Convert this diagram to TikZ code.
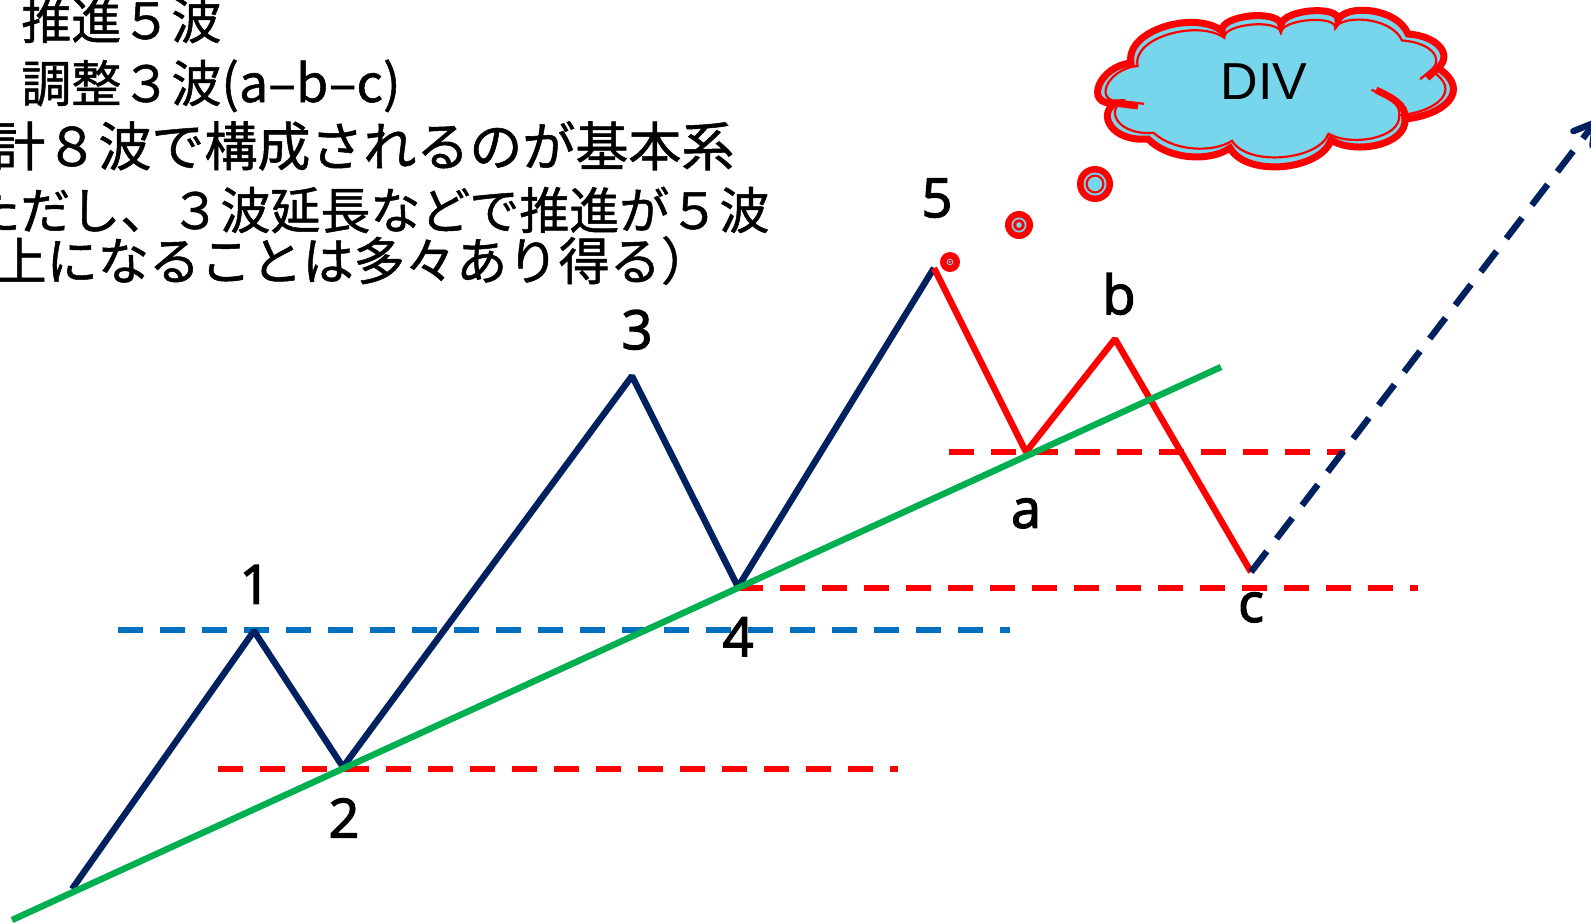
\documentclass[tikz,border=0pt]{standalone}
\usepackage{fontspec}
\usepackage{xcolor}
\setmainfont{Open Sans}
\newfontfamily\cjkfont[FakeBold=1]{Noto Sans CJK JP}
\newfontfamily\divfont{Liberation Sans}
\newfontfamily\lblfont[FakeBold=2.5]{Open Sans}
\usepackage{tikz}
\usetikzlibrary{arrows.meta,positioning}
\definecolor{wavenavy}{HTML}{002060}
\definecolor{trendgreen}{HTML}{00B050}
\definecolor{levelblue}{HTML}{0070C0}
\definecolor{cloudcyan}{HTML}{77D6EC}
\newcommand\cloudrim{(1115,103) .. controls (1083,106) and (1099,66) .. (1131,63)
  .. controls (1125,30) and (1195,10) .. (1222,31)
  .. controls (1220,15) and (1279,9) .. (1281,25)
  .. controls (1283,9) and (1340,5) .. (1338,20)
  .. controls (1345,4) and (1397,7) .. (1408,34)
  .. controls (1438,36) and (1453,55) .. (1438,68)
  .. controls (1472,90) and (1445,115) .. (1405,119)
  .. controls (1407,145) and (1355,155) .. (1331,140)
  .. controls (1321,170) and (1247,178) .. (1230,148)
  .. controls (1210,162) and (1169,160) .. (1148,139)
  .. controls (1112,142) and (1097,115) .. (1115,103) -- cycle}
\newcommand\cloudhooks{(1115,103) -- (1138,106) (1438,68) -- (1427,78)
  (1405,119) .. controls (1407,105) and (1391,97) .. (1376,90)}
\newcommand\bubble[5]{%
  \fill[red] #1 circle[radius=#2];
  \fill[cloudcyan] #1 circle[radius=#3];
  \fill[red] #1 circle[radius=#4];
  \fill[cloudcyan] #1 circle[radius=#5];}
\begin{document}
\begin{tikzpicture}[x=0.5pt, y=-0.5pt,
      wave/.style={line width=3.2pt, line join=bevel},
      level/.style={line width=3pt, dash pattern=on 12.25pt off 8.75pt},
      lbl/.style={font=\fontsize{27}{30}\selectfont\lblfont, inner sep=0pt},
      jptext/.style={font=\fontsize{#1}{30}\selectfont\cjkfont, inner sep=0pt, anchor=base west},
      jptext/.default=25]
    \useasboundingbox (0,0) rectangle (1591,922);
    \clip (0,0) rectangle (1591,922);
    % wave points
    \coordinate (w0) at (72,889);
    \coordinate (w1) at (254,631);
    \coordinate (w2) at (343,767);
    \coordinate (w3) at (632,376);
    \coordinate (w4) at (738,587);
    \coordinate (w5) at (934,268);
    \coordinate (wa) at (1026,452);
    \coordinate (wb) at (1115,339);
    \coordinate (wc) at (1251,572);
    \coordinate (tip) at (1597,120);
    \coordinate (trendstart) at (12,920);
    \coordinate (trendend) at (1221,367);
    % level lines
    \coordinate (lv1a) at (118,630);
    \coordinate (lv1b) at (1010,630);
    \coordinate (lv2a) at (218,769);
    \coordinate (lv2b) at (898,769);
    \coordinate (lv4a) at (738,588);
    \coordinate (lv4b) at (1418,588);
    \coordinate (lvaa) at (949,452);
    \coordinate (lvab) at (1345,452);
    \draw[level, levelblue] (lv1a) -- (lv1b);
    \draw[level, red] (lv2a) -- (lv2b);
    \draw[level, red] (lv4a) -- (lv4b);
    \draw[level, red] (lvaa) -- (lvab);
    \draw[wave, wavenavy] (w0) -- (w1) -- (w2) -- (w3) -- (w4) -- (w5);
    \draw[wave, red] (w5) -- (wa) -- (wb) -- (wc);
    \draw[wave, trendgreen] (trendstart) -- (trendend);
    \draw[wave, wavenavy, dash pattern=on 13pt off 8pt,
          -{Straight Barb[length=10pt, width=12pt, round]}] (wc) -- (tip);
    % wave labels
    \node[lbl, above=13.5pt of w1, xshift=.5pt] (n1) {1};
    \node[lbl, below=15.5pt of w2, xshift=.5pt] (n2) {2};
    \node[lbl, above=13pt of w3, xshift=2.5pt] (n3) {3};
    \node[lbl, below=15pt of w4] (n4) {4};
    \node[lbl, above=25pt of w5, xshift=1.5pt] (n5) {5};
    \node[lbl, below=23pt of wa] (na) {a};
    \node[lbl, above=12pt of wb, xshift=2pt] (nb) {b};
    \node[lbl, below=10pt of wc] (nc) {c};
    % cloud
    \bubble{(950,262)}{10}{3.3}{2.2}{1.2}
    \bubble{(1019,225)}{14}{7.5}{5.7}{2.8}
    \bubble{(1095,184)}{18}{11.5}{9.5}{7.2}
    \fill[cloudcyan] \cloudrim;
    \begin{scope}[shift={(1275,88)}, xscale=.955, yscale=.88, shift={(-1275,-88)}]
      \draw[red, line width=1.1pt] \cloudrim;
      \draw[red, line width=1.1pt] \cloudhooks;
    \end{scope}
    \draw[red, line width=3.5pt] \cloudrim;
    \draw[red, line width=3.5pt] \cloudhooks;
    \node[font=\fontsize{26}{30}\selectfont\divfont, inner sep=0pt] (div) at (1264,82) {DIV};
    % text block
    \node[jptext] (t1) at (21,39) {推進５波};
    \node[jptext] (t2) at (21,102) {調整３波{\fontsize{26}{30}\selectfont(a–b–c)}};
    \node[jptext=26.5] (t3) at (-8,166) {計８波で構成されるのが基本系};
    \node[jptext] (t4) at (-30,229) {ただし、３波延長などで推進が５波};
    \node[jptext=25.6] (t5) at (-5,280) {上になることは多々あり得る）};
\end{tikzpicture}
\end{document}
